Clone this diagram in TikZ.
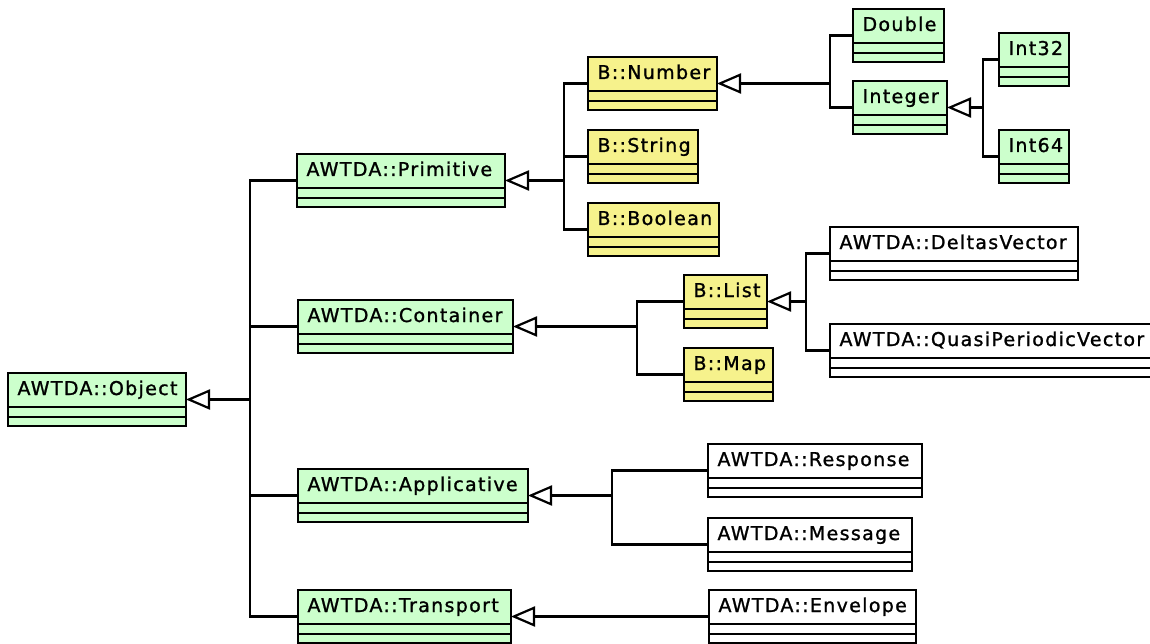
\documentclass[tikz,border=0pt]{standalone}
\usepackage{fontspec}
\setmainfont{DejaVu Sans}[LetterSpace=7, FakeBold=1.2]
\usetikzlibrary{arrows.meta}

\definecolor{clsgreen}{HTML}{CCFFCC}
\definecolor{clsyellow}{HTML}{F6F28C}

\tikzset{
  x=1pt, y=1pt,
  cls/.style={draw=black, line width=2.1pt, anchor=north west, outer sep=0pt,
    inner xsep=9.5pt, inner ysep=0pt, text height=22pt, text depth=31pt,
    align=left, font=\fontsize{19}{21}\selectfont},
  greencls/.style={cls, fill=clsgreen},
  yellowcls/.style={cls, fill=clsyellow},
  whitecls/.style={cls, fill=white},
  link/.style={line width=2.2pt},
  inh/.style={link, -{Triangle[open, length=24pt, width=20pt, fill=white]}},
}

% two empty compartments (attributes, operations) under the class name
\newcommand\compartments[1]{%
  \draw[line width=2.1pt] ([yshift=-34pt]#1.north west) -- ([yshift=-34pt]#1.north east)
                          ([yshift=-44pt]#1.north west) -- ([yshift=-44pt]#1.north east);}

\begin{document}
\begin{tikzpicture}
\useasboundingbox (0,0) rectangle (1150,-644);
\clip (0,0) rectangle (1150,-644);

% classes
\node[greencls, text width=159pt] (obj)   at (8,-373)   {AWTDA::Object};
\node[greencls, text width=189pt] (prim)  at (297,-154) {AWTDA::Primitive};
\node[greencls, text width=196pt] (cont)  at (298,-300) {AWTDA::Container};
\node[greencls, text width=211pt] (appl)  at (298,-469) {AWTDA::Applicative};
\node[greencls, text width=194pt] (trans) at (298,-590) {AWTDA::Transport};

\node[yellowcls, text width=110pt] (num)  at (588,-57)  {B::Number};
\node[yellowcls, text width=91pt]  (str)  at (588,-130) {B::String};
\node[yellowcls, text width=112pt] (bool) at (588,-203) {B::Boolean};
\node[yellowcls, text width=64pt]  (list) at (684,-275) {B::List};
\node[yellowcls, text width=70pt]  (map)  at (684,-348) {B::Map};

\node[greencls, text width=72pt] (dbl) at (853,-9)   {Double};
\node[greencls, text width=75pt] (int) at (853,-81)  {Integer};
\node[greencls, text width=51pt] (i32) at (999,-33)  {Int32};
\node[greencls, text width=51pt] (i64) at (999,-130) {Int64};

\node[whitecls, text width=229pt] (delta) at (830,-227) {AWTDA::DeltasVector};
\node[whitecls, text width=311pt] (quasi) at (830,-324) {AWTDA::QuasiPeriodicVector};
\node[whitecls, text width=195pt] (resp)  at (708,-444) {AWTDA::Response};
\node[whitecls, text width=185pt] (msg)   at (708,-518) {AWTDA::Message};
\node[whitecls, text width=188pt] (env)   at (709,-590) {AWTDA::Envelope};

\foreach \n in {obj,prim,cont,appl,trans,num,str,bool,list,map,dbl,int,i32,i64,delta,quasi,resp,msg,env}
  {\compartments{\n}}

% junction points of the inheritance trees
\path (obj.east  -| 250,0) coordinate (busObj)
      (prim.east -| 564,0) coordinate (busPrim)
      (num.east  -| 830,0) coordinate (busNum)
      (int.east  -| 983,0) coordinate (busInt)
      (cont.east -| 637,0) coordinate (busCont)
      (list.east -| 806,0) coordinate (busList)
      (appl.east -| 612,0) coordinate (busAppl);

% generalisations
\draw[inh] (busObj) -- (obj.east);
\foreach \c in {prim,cont,appl,trans} \draw[link] (\c.west) -| (busObj);

\draw[inh] (busPrim) -- (prim.east);
\foreach \c in {num,str,bool} \draw[link] (\c.west) -| (busPrim);

\draw[inh] (busNum) -- (num.east);
\foreach \c in {dbl,int} \draw[link] (\c.west) -| (busNum);

\draw[inh] (busInt) -- (int.east);
\foreach \c in {i32,i64} \draw[link] (\c.west) -| (busInt);

\draw[inh] (busCont) -- (cont.east);
\foreach \c in {list,map} \draw[link] (\c.west) -| (busCont);

\draw[inh] (busList) -- (list.east);
\foreach \c in {delta,quasi} \draw[link] (\c.west) -| (busList);

\draw[inh] (busAppl) -- (appl.east);
\foreach \c in {resp,msg} \draw[link] (\c.west) -| (busAppl);

\draw[inh] (env.west) -- (trans.east);
\end{tikzpicture}
\end{document}
